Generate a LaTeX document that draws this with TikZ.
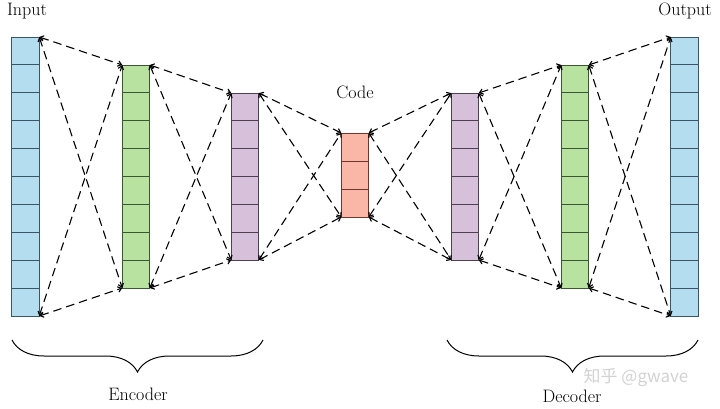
\documentclass[tikz,border=0pt]{standalone}
\usepackage{fontspec}
\newfontfamily\cjkwm{Noto Sans CJK SC}
\usetikzlibrary{calc,arrows.meta,decorations.pathreplacing}
\definecolor{bluefill}{RGB}{180,222,240}
\definecolor{blueline}{RGB}{60,85,100}
\definecolor{greenfill}{RGB}{184,226,160}
\definecolor{greenline}{RGB}{60,85,50}
\definecolor{purplefill}{RGB}{214,192,218}
\definecolor{purpleline}{RGB}{75,65,80}
\definecolor{redfill}{RGB}{250,182,166}
\definecolor{redline}{RGB}{110,55,45}
\begin{document}
\begin{tikzpicture}[x=1pt,y=-1pt,
  col/.style={draw, line width=0.9pt, minimum width=27.5pt, inner sep=0pt, outer sep=0pt},
  conn/.style={line width=1.1pt, dash pattern=on 8.5pt off 5pt,
    {Straight Barb[length=3.5pt,width=5.5pt]}-{Straight Barb[length=3.5pt,width=5.5pt]}},
  lab/.style={font=\fontsize{18}{21}\selectfont},
  brace/.style={decorate, line width=1pt, decoration={brace, mirror, amplitude=32pt}}]
\useasboundingbox (0,0) rectangle (720,409);
% columns
\node[col, fill=bluefill, draw=blueline, minimum height=279pt] (in) at (25.5,176.5) {};
\node[col, fill=greenfill, draw=greenline, minimum height=223pt] (g1) at (136,176.5) {};
\node[col, fill=purplefill, draw=purpleline, minimum height=167pt] (p1) at (245,176.5) {};
\node[col, fill=redfill, draw=redline, minimum height=84pt] (code) at (355,175) {};
\node[col, fill=purplefill, draw=purpleline, minimum height=167pt] (p2) at (465,176.5) {};
\node[col, fill=greenfill, draw=greenline, minimum height=223pt] (g2) at (575,176.5) {};
\node[col, fill=bluefill, draw=blueline, minimum height=279pt] (out) at (684.5,176.5) {};
% cell separators
\foreach \n/\k/\c in {in/10/blueline, g1/8/greenline, p1/6/purpleline, code/3/redline, p2/6/purpleline, g2/8/greenline, out/10/blueline}{
  \foreach \i in {1,...,\numexpr\k-1\relax}{
    \draw[\c, line width=0.9pt] ($(\n.north west)!{\i/\k}!(\n.south west)$) -- ($(\n.north east)!{\i/\k}!(\n.south east)$);
  }
}
% connectors
\foreach \a/\b in {in/g1, g1/p1, p1/code, code/p2, p2/g2, g2/out}{
  \draw[conn] (\a.north east) -- (\b.north west);
  \draw[conn] (\a.south east) -- (\b.south west);
  \draw[conn] (\a.north east) -- (\b.south west);
  \draw[conn] (\a.south east) -- (\b.north west);
}
% labels
\node[lab] (linput) at (27,11) {Input};
\node[lab] (loutput) at (685,11) {Output};
\node[lab] (lcode) at (355,92) {Code};
% braces
\coordinate (e1) at (12,340);
\coordinate (e2) at (263,340);
\coordinate (d1) at (447,340);
\coordinate (d2) at (698,340);
\draw[brace] (e1) -- (e2);
\draw[brace] (d1) -- (d2);
\node[lab] (lenc) at (138,394) {Encoder};
\node[lab] (ldec) at (572,396) {Decoder};
% watermark
\node[text=gray!35, font=\cjkwm\fontsize{17}{20}\selectfont] (wm) at (636,377) {知乎 @gwave};
\end{tikzpicture}
\end{document}
